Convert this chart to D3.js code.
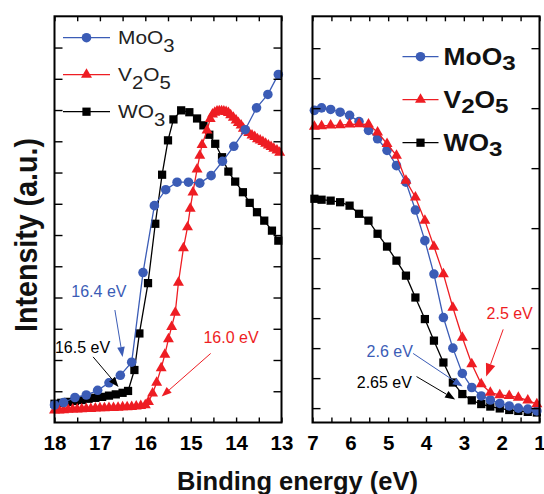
<!DOCTYPE html>
<html>
<head>
<meta charset="utf-8">
<script src="https://cdn.jsdelivr.net/npm/d3@7"></script>
<style>
  html, body { margin: 0; padding: 0; background: #fff; }
  svg { display: block; font-family: "Liberation Sans", Arial, sans-serif; }
</style>
</head>
<body>
<div id="app"></div>
<script>
/*global d3*/

// ---- data (binding energy in eV, intensity in a.u.) ----

// left panel: secondary electron cut-off region
const leftMoO3E = [18.0, 17.8, 17.55, 17.3, 17.05, 16.8, 16.55, 16.3, 16.05, 15.8, 15.55, 15.3, 15.05, 14.8, 14.55, 14.3, 14.05, 13.8, 13.55, 13.3, 13.07];
const leftMoO3I = [0.56, 0.64, 0.80, 0.88, 1.03, 1.27, 1.51, 1.93, 4.80, 6.94, 7.45, 7.69, 7.69, 7.66, 7.90, 8.36, 8.84, 9.37, 10.07, 10.5, 11.14];

const leftV2O5E = [18.0, 17.9, 17.8, 17.7, 17.6, 17.5, 17.4, 17.3, 17.2, 17.1, 17.0, 16.9, 16.8, 16.7, 16.6, 16.5, 16.4, 16.3, 16.2, 16.1, 16.0,
  15.93, 15.84, 15.75, 15.65, 15.57, 15.49, 15.42, 15.34, 15.27, 15.16, 15.07, 15.01, 14.95, 14.86, 14.8, 14.75, 14.64, 14.57,
  14.52, 14.47, 14.42, 14.37, 14.32, 14.27, 14.22, 14.17, 14.12, 14.06, 14.0, 13.95, 13.89, 13.84, 13.78, 13.72, 13.65, 13.59,
  13.53, 13.47, 13.41, 13.35, 13.29, 13.23, 13.17, 13.1, 13.04];
const leftV2O5I = [0.39, 0.39, 0.40, 0.41, 0.42, 0.42, 0.43, 0.44, 0.44, 0.45, 0.46, 0.46, 0.47, 0.47, 0.48, 0.49, 0.49, 0.50, 0.52, 0.53, 0.56,
  0.66, 0.93, 1.28, 1.74, 2.17, 2.67, 3.06, 3.52, 4.48, 5.58, 6.25, 6.85, 7.37, 8.10, 8.54, 8.89, 9.35, 9.72,
  9.86, 9.92, 9.96, 9.97, 9.97, 9.96, 9.94, 9.91, 9.84, 9.76, 9.67, 9.59, 9.51, 9.41, 9.33, 9.27, 9.19, 9.14,
  9.07, 9.03, 8.98, 8.93, 8.87, 8.82, 8.77, 8.71, 8.64];

const leftWO3E = [18.0, 17.85, 17.7, 17.55, 17.4, 17.25, 17.1, 16.95, 16.8, 16.65, 16.5, 16.38, 16.24, 16.13, 15.94, 15.78, 15.63,
  15.5, 15.38, 15.21, 15.03, 14.86, 14.72, 14.59, 14.46, 14.31, 14.17, 14.02, 13.85, 13.7, 13.54, 13.38, 13.21, 13.07];
const leftWO3I = [0.60, 0.63, 0.66, 0.69, 0.72, 0.76, 0.79, 0.82, 0.86, 0.90, 0.95, 1.01, 1.68, 2.85, 4.46, 6.36, 7.93,
  9.03, 9.70, 9.99, 9.93, 9.73, 9.51, 9.21, 8.92, 8.49, 8.03, 7.71, 7.37, 7.03, 6.73, 6.46, 6.14, 5.82];

// right panel: valence band edge, same energies for the three films
const rightE = [6.95, 6.76, 6.52, 6.27, 6.02, 5.77, 5.52, 5.28, 5.03, 4.78, 4.53, 4.28, 4.03, 3.79, 3.54, 3.29, 3.04, 2.79, 2.54, 2.3, 2.05, 1.8, 1.56, 1.31, 1.07];
const rightMoO3I = [9.99, 10.07, 10.02, 9.93, 9.83, 9.63, 9.35, 9.08, 8.71, 8.22, 7.69, 6.80, 5.82, 4.75, 3.36, 2.38, 1.57, 1.12, 0.85, 0.72, 0.61, 0.53, 0.46, 0.43, 0.37];
const rightV2O5I = [9.47, 9.49, 9.51, 9.52, 9.54, 9.55, 9.54, 9.29, 8.92, 8.54, 7.74, 7.21, 6.46, 5.63, 4.75, 3.68, 2.72, 1.87, 1.23, 0.96, 0.88, 0.85, 0.80, 0.71, 0.59];
const rightWO3I = [7.16, 7.13, 7.10, 7.05, 6.94, 6.68, 6.46, 6.04, 5.63, 5.18, 4.70, 4.00, 3.31, 2.62, 1.92, 1.28, 0.91, 0.71, 0.59, 0.51, 0.45, 0.40, 0.37, 0.34, 0.32];

// axis ticks (no numbers on the intensity axis)
const leftXLabels = [18, 17, 16, 15, 14, 13];
const rightXLabels = [7, 6, 5, 4, 3, 2, 1];
const leftYTicks = [1, 2, 3, 4, 5, 6, 7, 8, 9, 10, 11, 12];
const rightYTicks = [0.46, 1.42, 2.38, 3.34, 4.3, 5.26, 6.22, 7.18, 8.14, 9.1, 10.06, 11.02, 11.98];
const rightYTicksOuter = [0.46, 2.38, 4.3, 6.22, 8.14, 10.06, 11.98];

// onset labels
const onsetLabels = ['16.4 eV', '16.5 eV', '16.0 eV', '2.5 eV', '2.6 eV', '2.65 eV'];

(() => {
  const W = 544, H = 494;
  const BLUE = '#3b5cb6', RED = '#ee1d23', BLACK = '#000';
  const app = d3.select('#app');

  const svg = d3.create('svg')
    .attr('width', W)
    .attr('height', H)
    .attr('viewBox', [0, 0, W, H]);

  svg.append('rect').attr('width', W).attr('height', H).attr('fill', '#fff');

  const y = d3.scaleLinear().domain([0, 13]).range([422.5, 16.3]);

  const zip = (a, b) => a.map((v, i) => [v, b[i]]);

  const sym = {
    MoO3: d3.symbol().type(d3.symbolCircle).size(72)(),
    V2O5: d3.symbol().type(d3.symbolTriangle).size(52)(),
    WO3: d3.symbol().type(d3.symbolSquare).size(68)()
  };
  const col = { MoO3: BLUE, V2O5: RED, WO3: BLACK };

  const panels = [
    {
      x: d3.scaleLinear().domain([18, 13]).range([54.5, 281.5]),
      labels: leftXLabels,
      yIn: leftYTicks, yOut: leftYTicks,
      //draw order: black under red under blue
      series: [
        { name: 'WO3', pts: zip(leftWO3E, leftWO3I) },
        { name: 'V2O5', pts: zip(leftV2O5E, leftV2O5I) },
        { name: 'MoO3', pts: zip(leftMoO3E, leftMoO3I) }
      ]
    },
    {
      x: d3.scaleLinear().domain([7, 1]).range([312.5, 539.5]),
      labels: rightXLabels,
      yIn: rightYTicks, yOut: rightYTicksOuter,
      series: [
        { name: 'WO3', pts: zip(rightE, rightWO3I) },
        { name: 'MoO3', pts: zip(rightE, rightMoO3I) },
        { name: 'V2O5', pts: zip(rightE, rightV2O5I) }
      ]
    }
  ];

  panels.forEach((p) => {
    const [x0, x1] = p.x.range();
    const [yb, yt] = y.range();
    const halfSteps = d3.range(0, 2 * Math.abs(p.x.domain()[0] - p.x.domain()[1]) + 1)
      .map(k => Math.min(...p.x.domain()) + k * 0.5);

    // lines + markers
    const line = d3.line().x(d => p.x(d[0])).y(d => y(d[1]));
    p.series.forEach((s) => {
      const g = svg.append('g');
      g.append('path')
        .attr('d', line(s.pts))
        .attr('fill', 'none')
        .attr('stroke', col[s.name])
        .attr('stroke-width', 1.3);
      g.selectAll('path.m')
        .data(s.pts)
        .join('path')
        .attr('class', 'm')
        .attr('d', sym[s.name])
        .attr('fill', col[s.name])
        .attr('transform', d => `translate(${p.x(d[0])},${y(d[1])})`);
    });

    // ticks all point inwards
    const axisG = (axis, tx, ty) => svg.append('g')
      .attr('transform', `translate(${tx},${ty})`)
      .call(axis)
      .call(g => g.select('.domain').remove())
      .call(g => g.selectAll('line').attr('stroke', '#000').attr('stroke-width', 1.4));

    axisG(d3.axisBottom(p.x).tickValues(halfSteps).tickSize(-5).tickPadding(13)
      .tickFormat(d => (p.labels.includes(d) ? d : '')), 0, yb)
      .call(g => g.selectAll('text')
        .attr('fill', '#000')
        .attr('font-family', '"Liberation Sans", Arial, sans-serif')
        .attr('font-weight', 'bold')
        .attr('font-size', 20.5));

    axisG(d3.axisTop(p.x).tickValues(halfSteps).tickSize(-5).tickFormat(''), 0, yt);
    axisG(d3.axisLeft(y).tickValues(p.yIn).tickSize(-8).tickFormat(''), x0, 0);
    axisG(d3.axisRight(y).tickValues(p.yOut).tickSize(-8).tickFormat(''), x1, 0);

    svg.append('rect')
      .attr('x', x0).attr('y', yt)
      .attr('width', x1 - x0).attr('height', yb - yt)
      .attr('fill', 'none')
      .attr('stroke', '#000')
      .attr('stroke-width', 2);
  });

  // legends
  const subParts = {
    MoO3: [['MoO', 0], ['3', 1]],
    V2O5: [['V', 0], ['2', 1], ['O', 0], ['5', 1]],
    WO3: [['WO', 0], ['3', 1]]
  };

  const legend = (opt) => {
    ['MoO3', 'V2O5', 'WO3'].forEach((name, i) => {
      const ly = opt.y0 + i * opt.gap;
      svg.append('line')
        .attr('x1', opt.lx0).attr('x2', opt.lx1)
        .attr('y1', ly).attr('y2', ly)
        .attr('stroke', col[name]).attr('stroke-width', 1.3);
      svg.append('path')
        .attr('d', sym[name])
        .attr('fill', col[name])
        .attr('transform', `translate(${(opt.lx0 + opt.lx1) / 2},${ly})`);
      const t = svg.append('text')
        .attr('transform', `translate(${opt.tx},${ly + opt.base}) scale(${opt.sx},1)`)
        .attr('font-size', opt.size)
        .attr('font-weight', opt.weight)
        .attr('fill', opt.fill);
      let down = false;
      subParts[name].forEach(([str, sub]) => {
        const ts = t.append('tspan').text(str);
        if (sub && !down) { ts.attr('dy', opt.sub).attr('font-size', opt.subSize); down = true; }
        else if (!sub && down) { ts.attr('dy', -opt.sub); down = false; }
        else if (sub) ts.attr('font-size', opt.subSize);
      });
    });
  };

  legend({ y0: 37.7, gap: 37, lx0: 63, lx1: 110, tx: 118, base: 6.7, sx: 1.13,
    size: 18.5, subSize: 18, sub: 8, weight: 'normal', fill: '#222' });
  legend({ y0: 56.7, gap: 43, lx0: 402.5, lx1: 438.5, tx: 443.5, base: 8.3, sx: 1.15,
    size: 23, subSize: 21, sub: 5, weight: 'bold', fill: '#111' });

  // onset annotations, placed in data coordinates of each panel
  const L = panels[0].x, R = panels[1].x;
  const notes = [
    { sx: L, c: BLUE, t: [17.63, 4.02], a: [16.67, 3.6], b: [16.5, 2.1], head: 10 },
    { sx: L, c: BLACK, t: [17.99, 2.22], a: [17.15, 2.1], b: [16.59, 1.14], head: 10 },
    { sx: L, c: RED, t: [14.72, 2.56], a: [14.56, 2.21], b: [15.64, 0.83], head: 10 },
    { sx: R, c: RED, t: [2.4, 3.31], a: [1.96, 2.98], b: [2.41, 1.47], head: 13 },
    { sx: R, c: BLUE, t: [5.57, 2.1], a: [4.34, 2.21], b: [3.03, 1.15], head: 10 },
    { sx: R, c: BLACK, t: [5.83, 1.09], a: [4.25, 1.47], b: [3.23, 0.74], head: 10 }
  ];

  notes.forEach((n, i) => {
    svg.append('text')
      .attr('x', n.sx(n.t[0]))
      .attr('y', y(n.t[1]))
      .attr('font-size', 16)
      .attr('fill', n.c)
      .text(onsetLabels[i]);

    const ax = n.sx(n.a[0]), ay = y(n.a[1]);
    const bx = n.sx(n.b[0]), by = y(n.b[1]);
    const ang = Math.atan2(by - ay, bx - ax);
    const hl = n.head, hw = n.head * 0.38;
    const baseX = bx - hl * Math.cos(ang), baseY = by - hl * Math.sin(ang);
    svg.append('line')
      .attr('x1', ax).attr('y1', ay).attr('x2', baseX).attr('y2', baseY)
      .attr('stroke', n.c).attr('stroke-width', 1);
    svg.append('path')
      .attr('d', d3.line()([
        [bx, by],
        [baseX - hw * Math.sin(ang), baseY + hw * Math.cos(ang)],
        [baseX + hw * Math.sin(ang), baseY - hw * Math.cos(ang)]
      ]) + 'Z')
      .attr('fill', n.c);
  });

  // axis titles
  svg.append('text')
    .attr('transform', 'translate(37,235) rotate(-90) scale(1,1.12)')
    .attr('text-anchor', 'middle')
    .attr('font-weight', 'bold')
    .attr('font-size', 28.6)
    .attr('fill', '#111')
    .text('Intensity (a.u.)');

  svg.append('text')
    .attr('x', 297.5)
    .attr('y', 490)
    .attr('text-anchor', 'middle')
    .attr('font-weight', 'bold')
    .attr('font-size', 25.5)
    .attr('fill', '#111')
    .text('Binding energy (eV)');

  app.append(() => svg.node());
})();
</script>
</body>
</html>
